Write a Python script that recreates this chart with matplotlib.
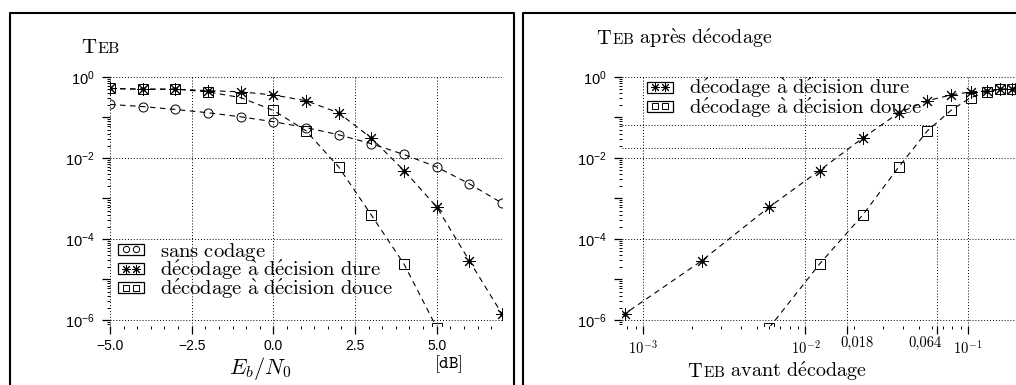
import numpy as np
import matplotlib
matplotlib.use('Agg')
import matplotlib.pyplot as plt
from matplotlib.patches import Rectangle
from matplotlib.lines import Line2D
from matplotlib.legend_handler import HandlerBase
from matplotlib.offsetbox import TextArea, HPacker, AnchoredOffsetbox
from matplotlib.ticker import FixedLocator, MultipleLocator, FuncFormatter, NullFormatter

plt.rcParams['font.family'] = ['Liberation Sans', 'DejaVu Sans']
plt.rcParams['mathtext.fontset'] = 'custom'
plt.rcParams['mathtext.rm'] = 'Liberation Sans'
plt.rcParams['mathtext.it'] = 'Liberation Sans:italic'

# Eb/N0 in dB and bit error rates read per point
ebn0 = [-5, -4, -3, -2, -1, 0, 1, 2, 3, 4, 5, 6, 7]
teb_sans = [0.21, 0.186, 0.158, 0.131, 0.104, 0.0786, 0.0563, 0.0375, 0.0225,
            0.0122, 0.006, 0.0023, 0.00077]
teb_dure = [0.52, 0.50, 0.50, 0.46, 0.43, 0.36, 0.26, 0.13, 0.031, 0.0049,
            0.00062, 2.9e-5, 1.4e-6]
teb_douce = [0.52, 0.50, 0.50, 0.43, 0.31, 0.15, 0.047, 0.006, 3.9e-4, 2.4e-5, 6.5e-7]
# TEB where decoding starts to pay off (hard, soft)
seuils = [0.018, 0.064]
seuil_labels = ['0,018', '0,064']

lab_sans = r'$\mathrm{sans\ codage}$'
lab_dure = r"$\mathrm{d\'ecodage\ \`a\ d\'ecision\ dure}$"
lab_douce = r"$\mathrm{d\'ecodage\ \`a\ d\'ecision\ douce}$"

W, H = 1016, 385
fig = plt.figure(figsize=(W / 100, H / 100), dpi=100)


def fx(px):
    return px / W


def fy(py):
    return 1 - py / H


class BoxedPair(HandlerBase):
    # little framed box holding two copies of the marker
    def create_artists(self, legend, orig_handle, xdescent, ydescent,
                       width, height, fontsize, trans):
        x0, y0 = -xdescent, -ydescent
        box = Rectangle((x0, y0), width, height, fill=False, ec='k', lw=0.9,
                        transform=trans)
        pts = Line2D([x0 + width * 0.3, x0 + width * 0.7], [y0 + height / 2] * 2,
                     ls='none', marker=orig_handle.get_marker(),
                     ms=orig_handle.get_markersize() * 0.7, mfc='none',
                     mec='k', mew=0.7, transform=trans)
        return [box, pts]


def small_caps(parts, fx0, fy0, loc='lower left'):
    boxes = []
    for txt, size in parts:
        boxes.append(TextArea(txt, textprops=dict(fontsize=size, math_fontfamily='cm')))
    pack = HPacker(children=boxes, align='baseline', pad=0, sep=0)
    anchored = AnchoredOffsetbox(loc=loc, child=pack, pad=0, borderpad=0, frameon=False,
                                 bbox_to_anchor=(fx0, fy0), bbox_transform=fig.transFigure)
    fig.add_artist(anchored)


def log_formatter(v, pos):
    e = int(round(np.log10(v)))
    if e % 2:
        return ''
    return r'$10^{%d}$' % e


decades = [10.0 ** e for e in range(0, -7, -1)]
minor_y = [m * d / 10 for d in decades for m in range(2, 10)]


def style_axes(ax):
    for s in ax.spines.values():
        s.set_visible(False)
    ax.set_yscale('log')
    ax.set_ylim(10 ** -6.15, 1)
    ax.yaxis.set_major_locator(FixedLocator(decades))
    ax.yaxis.set_minor_locator(FixedLocator([v for v in minor_y if v > 10 ** -6.15]))
    ax.yaxis.set_major_formatter(FuncFormatter(log_formatter))
    ax.yaxis.set_minor_formatter(NullFormatter())
    ax.tick_params(axis='both', which='major', direction='out', length=6, width=0.9,
                   labelsize=10, pad=3)
    ax.tick_params(axis='y', which='major', labelsize=10.5, pad=5)
    ax.tick_params(axis='both', which='minor', direction='out', length=2.5, width=0.7)
    for e in (0, -2, -4, -6):
        ax.axhline(10.0 ** e, ls=(0, (1, 2)), color='k', lw=0.7, zorder=0)


def frame(x0, x1, top):
    # open-bottom panel border
    xs = [fx(x0), fx(x0), fx(x1), fx(x1)]
    ys = [0, fy(top), fy(top), 0]
    fig.add_artist(Line2D(xs, ys, color='k', lw=1.5, transform=fig.transFigure))


line_kw = dict(color='k', lw=0.8, ls=(0, (5, 4)), mfc='none', mec='k', mew=0.7)
star = (8, 2, 0)
leg_kw = dict(handler_map={Line2D: BoxedPair()}, frameon=False, fontsize=14.8,
              handlelength=1.25, handleheight=0.45, handletextpad=0.8,
              labelspacing=-0.2, borderpad=0, borderaxespad=0)

# ---- left: TEB versus Eb/N0
ax1 = fig.add_axes([fx(110), fy(326), fx(392), 249 / H])
style_axes(ax1)
ax1.set_xlim(-5, 7)
ax1.xaxis.set_major_locator(FixedLocator([-5, -2.5, 0, 2.5, 5]))
ax1.xaxis.set_minor_locator(MultipleLocator(2.5 / 6))
ax1.xaxis.set_major_formatter(FuncFormatter(lambda v, p: ('%.1f' % v).replace('-', '\u2212')))
for v in (-5, -2.5, 0, 2.5, 5):
    ax1.axvline(v, ls=(0, (1, 2)), color='k', lw=0.7, zorder=0)

l_sans, = ax1.plot(ebn0, teb_sans, marker='o', ms=6.5, **line_kw)
l_dure, = ax1.plot(ebn0, teb_dure, marker=star, ms=9, **line_kw)
ax1.plot(ebn0, teb_dure, ls='none', marker='o', ms=2.2, color='k')
l_douce, = ax1.plot(ebn0[:len(teb_douce)], teb_douce, marker='s', ms=7, **line_kw)

leg1 = ax1.legend([l_sans, l_dure, l_douce], [lab_sans, lab_dure, lab_douce],
                  loc='lower left', bbox_to_anchor=(0.02, 0.1), **leg_kw)
for t in leg1.get_texts():
    t.set_math_fontfamily('cm')

fig.text(fx(260), fy(369), r'$E_b/N_0$', fontsize=16, math_fontfamily='cm',
         ha='center', va='center')
fig.text(fx(448), fy(364), r'$\mathtt{[dB]}$', fontsize=13, math_fontfamily='cm',
         ha='center', va='center')
small_caps([(r'$\mathrm{T}$', 15), (r'$\mathrm{EB}$', 11.5)], fx(81), fy(57))

# ---- right: TEB after decoding versus TEB before decoding
ax2 = fig.add_axes([fx(622), fy(326), fx(418), 249 / H])
style_axes(ax2)
ax2.set_xscale('log')
ax2.set_xlim(10 ** -3.129, 10 ** -0.557)
xt = [1e-3, 1e-2, seuils[0], seuils[1], 1e-1]
ax2.set_xticks(xt, [r'$10^{-3}$', r'$10^{-2}$', '', '', r'$10^{-1}$'],
               math_fontfamily='cm', fontsize=10.5)
minor_x = [m * d for d in (1e-4, 1e-3, 1e-2, 1e-1) for m in range(2, 10)]
ax2.xaxis.set_minor_locator(FixedLocator([v for v in minor_x if 10 ** -3.129 < v < 10 ** -0.557]))
ax2.xaxis.set_minor_formatter(NullFormatter())
for s, lab, dx in zip(seuils, seuil_labels, (7, -8)):
    ax2.annotate(lab, xy=(s, 0), xycoords=('data', 'axes fraction'),
                 xytext=(dx, -7.5), textcoords='offset points', ha='center', va='top',
                 fontfamily='cmr10', fontsize=10.5)
for v in (1e-3, 1e-2, 1e-1):
    ax2.axvline(v, ls=(0, (1, 2)), color='k', lw=0.7, zorder=0)
x_lo, y_lo = ax2.get_xlim()[0], ax2.get_ylim()[0]
for s in seuils:
    ax2.plot([x_lo, s], [s, s], ls=(0, (1, 2)), color='k', lw=0.7, zorder=0)
    ax2.plot([s, s], [y_lo, s], ls=(0, (1, 2)), color='k', lw=0.7, zorder=0)

r_dure, = ax2.plot(teb_sans, teb_dure, marker=star, ms=9, **line_kw)
ax2.plot(teb_sans, teb_dure, ls='none', marker='o', ms=2.2, color='k')
r_douce, = ax2.plot(teb_sans[:len(teb_douce)], teb_douce, marker='s', ms=7, **line_kw)

leg2 = ax2.legend([r_dure, r_douce], [lab_dure, lab_douce],
                  loc='upper left', bbox_to_anchor=(0.06, 1.0), **leg_kw)
for t in leg2.get_texts():
    t.set_math_fontfamily('cm')

small_caps([(r'$\mathrm{T}$', 14.5), (r'$\mathrm{EB}$', 11),
            (r"$\mathrm{\ apr\`es\ d\'ecodage}$", 14.5)], fx(596), fy(50))
small_caps([(r'$\mathrm{T}$', 14.5), (r'$\mathrm{EB}$', 11),
            (r"$\mathrm{\ avant\ d\'ecodage}$", 14.5)], fx(777), fy(383), loc='lower center')

frame(10, 514, 13)
frame(523, 1100, 13)

fig.savefig('out.png', dpi=100)
